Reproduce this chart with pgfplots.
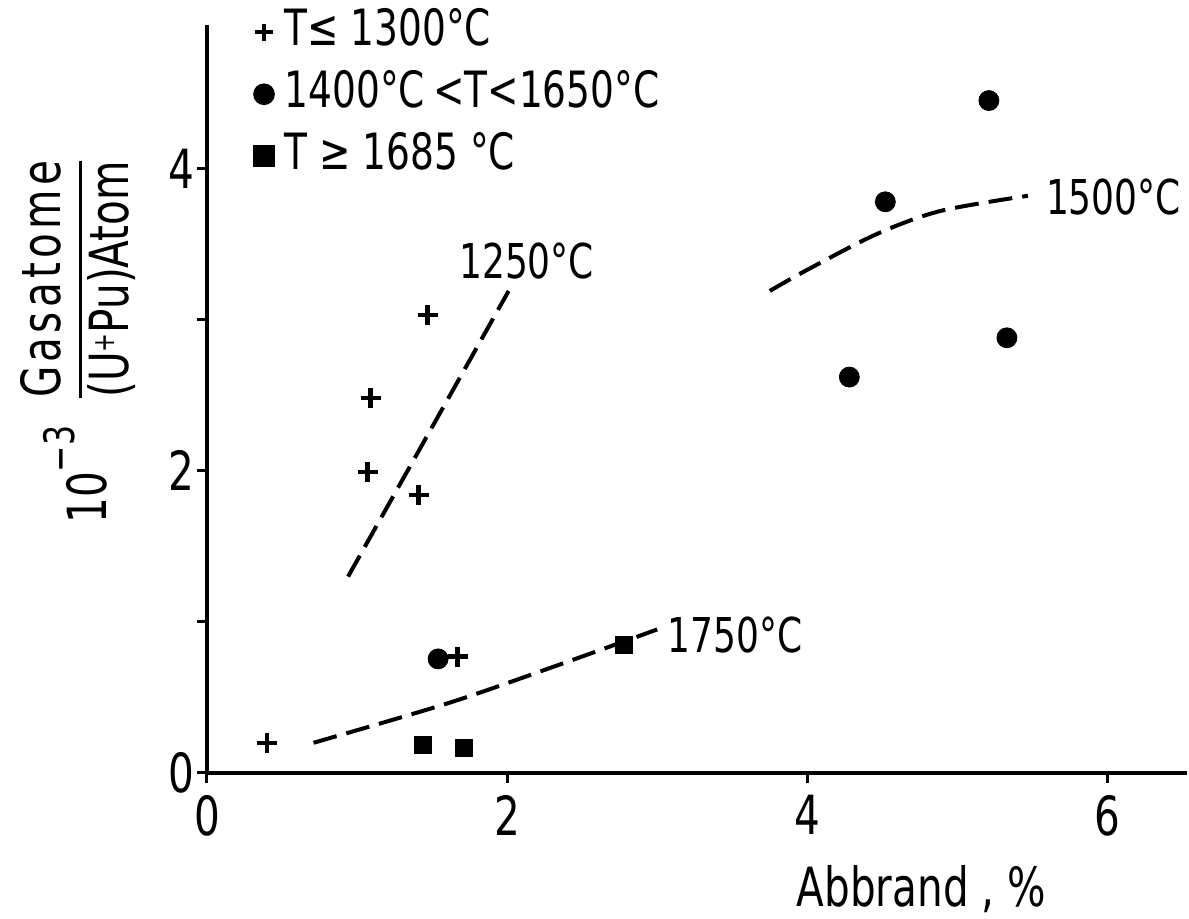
\documentclass[border=0pt]{standalone}
\usepackage{pgfplots}
\pgfplotsset{compat=1.18}
\usepackage{fontspec}
\setmainfont{DejaVu Sans}[FakeStretch=0.75]
\newsavebox\denbox
\begin{document}
\begin{tikzpicture}
\path[use as bounding box] (-103.5pt,-73pt) rectangle (491pt,386.5pt);
\begin{axis}[
  scale only axis, width=490pt, height=374pt,
  xmin=0, xmax=6.53, ymin=0, ymax=4.95,
  axis lines=left, axis line style={-, line width=2pt},
  xtick={0,2,4,6}, ytick={0,1,2,3,4}, yticklabels={0,,2,,4},
  tick align=outside, major tick length=5pt,
  tick style={line width=1.5pt, black},
  /pgf/number format/assume math mode=true,
  ticklabel style={font=\fontsize{27}{27}\selectfont, inner sep=1pt},
  xticklabel style={yshift=-5pt},
  clip=false,
  legend cell align=left,
  legend style={draw=none, fill=none, at={(axis cs:0.32,5.07)}, anchor=north west,
    inner sep=0pt, row sep=6pt, column sep=5pt,
    font=\fontsize{25}{25}\selectfont,
    nodes={inner sep=1pt, text height=18pt, text depth=5pt}},
  legend image code/.code={\draw[#1, mark size=4.3pt, line width=2.2pt] plot coordinates {(0cm,0cm)};},
]
% dashed fitted curves
\addplot[forget plot, black, line width=2pt, dash pattern=on 12pt off 5pt] coordinates {
 (0.94,1.30) (2.01,3.19)};
\addplot[forget plot, black, line width=2pt, dash pattern=on 12pt off 5pt, smooth] coordinates {
 (3.75,3.19) (4.00,3.33) (4.47,3.57) (4.89,3.72) (5.47,3.82)};
\addplot[forget plot, black, line width=2pt, dash pattern=on 12pt off 5pt, smooth] coordinates {
 (0.71,0.20) (1.60,0.46) (2.30,0.70) (3.00,0.95)};
% data
\addplot[only marks, mark=+, mark size=5pt, line width=2pt, mark options={line width=2.2pt}, black] coordinates {
 (0.40,0.20) (1.09,2.48) (1.07,1.99) (1.47,3.03) (1.41,1.84) (1.67,0.77)};
\addlegendentry{T≤ 1300°C}
\addplot[only marks, mark=*, mark size=5pt, black] coordinates {
 (1.54,0.755) (4.28,2.62) (4.52,3.78) (5.21,4.45) (5.33,2.88)};
\addlegendentry{1400°C\,<T<1650°C}
\addplot[only marks, mark=square*, mark size=4.2pt, black] coordinates {
 (1.44,0.185) (1.71,0.166) (2.78,0.85)};
\addlegendentry{T ≥ 1685 °C}
% annotations
\node[font=\fontsize{24}{24}\selectfont] at (axis cs:2.13,3.39) {1250°C};
\node[font=\fontsize{24}{24}\selectfont] at (axis cs:6.04,3.81) {1500°C};
\node[font=\fontsize{24}{24}\selectfont] at (axis cs:3.52,0.91) {1750°C};
\node[font=\fontsize{27}{27}\selectfont] at (axis cs:4.76,-0.77) {Abbrand , \%};
\node[rotate=90, font=\fontsize{27}{27}\selectfont] at (axis cs:-0.83,2.85) {%
 \sbox\denbox{(U\raisebox{.25em}{\fontsize{15}{15}\selectfont+}Pu)Atom}%
 10\raisebox{0.6em}{\fontsize{21}{21}\selectfont −3}\hspace{14pt}%
 \raisebox{6pt}{\renewcommand\arraystretch{1.0}\setlength\arrayrulewidth{1.6pt}%
 \begin{tabular}{@{}c@{}}\makebox[\wd\denbox][s]{G\hfill a\hfill s\hfill a\hfill t\hfill o\hfill m\hfill e}\\[1pt]\hline\rule{0pt}{23pt}\usebox\denbox\end{tabular}}};
\end{axis}
\end{tikzpicture}
\end{document}
